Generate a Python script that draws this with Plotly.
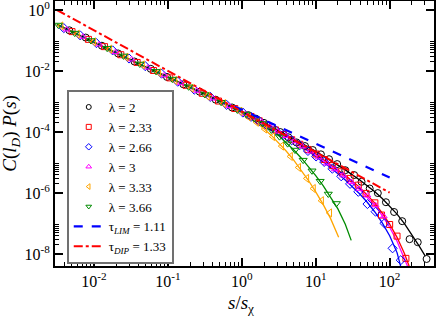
import plotly.graph_objects as go

# ---------------- data ----------------
series_names = ["λ = 2", "λ = 2.33", "λ = 2.66", "λ = 3", "λ = 3.33", "λ = 3.66"]

s_l2 = [0.00464, 0.00773, 0.0128, 0.0212, 0.0353, 0.0586, 0.0973, 0.162, 0.269, 0.444, 0.738, 1.225,
        1.549, 1.995, 2.570, 3.311, 4.266, 5.495, 7.16, 9.12, 11.75, 15.14, 19.50, 25.12, 33.11, 41.69,
        53.70, 69.18, 89.13, 114.8, 147.9, 186.2, 239.9, 316.2]
p_l2 = [0.216, 0.125, 0.0674, 0.0377, 0.0205, 0.0118, 0.00640, 0.00367, 0.00210, 0.00115, 0.000639, 0.000357,
        2.754e-4, 1.995e-4, 1.445e-4, 1.0e-4, 6.76e-5, 4.57e-5, 3.47e-5, 2.57e-5, 1.86e-5, 1.29e-5, 8.91e-6,
        5.62e-6, 3.89e-6, 2.34e-6, 1.41e-6, 1.0e-6, 5.01e-7, 2.40e-7, 1.20e-7, 3.09e-8, 2.45e-8, 6.92e-9]

s_l233 = [0.00505, 0.00842, 0.0139, 0.0231, 0.0384, 0.0638, 0.106, 0.176, 0.292, 0.484, 0.804, 1.334,
          1.718, 2.213, 2.851, 3.673, 4.732, 6.095, 7.852, 10.12, 13.03, 16.79, 22.13, 29.17, 37.67, 47.86,
          63.1, 77.62, 100, 125.9, 166.0]
p_l233 = [0.196, 0.109, 0.0630, 0.0342, 0.0191, 0.0104, 0.00596, 0.00340, 0.00186, 0.00104, 0.000590, 0.000324,
          2.34e-4, 1.70e-4, 1.175e-4, 8.32e-5, 5.62e-5, 3.98e-5, 2.69e-5, 1.905e-5, 1.26e-5, 7.94e-6, 5.01e-6,
          3.02e-6, 1.82e-6, 9.77e-7, 4.79e-7, 1.905e-7, 9.33e-8, 3.89e-8, 7.24e-9]

s_l266 = [0.00391, 0.00652, 0.0108, 0.0179, 0.0298, 0.0495, 0.0821, 0.136, 0.227, 0.375, 0.623, 1.033,
          1.334, 1.718, 2.213, 2.851, 3.673, 4.732, 6.095, 7.852, 10.12, 13.03, 16.79, 22.13, 29.17, 37.67,
          50.12, 64.57, 85.11, 109.6, 141.3]
p_l266 = [0.255, 0.147, 0.0821, 0.0475, 0.0257, 0.0144, 0.0082, 0.00447, 0.00245, 0.00142, 0.000778, 0.000435,
          3.16e-4, 2.29e-4, 1.62e-4, 1.148e-4, 8.13e-5, 5.37e-5, 3.72e-5, 2.40e-5, 1.585e-5, 1.047e-5, 6.31e-6,
          3.55e-6, 2.0e-6, 1.10e-6, 4.37e-7, 2.45e-7, 1.02e-7, 1.55e-8, 6.31e-9]

s_l3 = [0.00426, 0.0071, 0.0117, 0.0195, 0.0324, 0.0538, 0.0893, 0.148, 0.247, 0.408, 0.678, 1.124,
        1.445, 1.862, 2.399, 3.090, 3.981, 5.129, 6.607, 8.511, 10.96, 14.13, 18.20, 23.44, 30.20, 38.90,
        50.12, 64.57, 83.18]
p_l3 = [0.230, 0.133, 0.0744, 0.0417, 0.0240, 0.0130, 0.00725, 0.00400, 0.00226, 0.00126, 0.000705, 0.000394,
        2.95e-4, 2.14e-4, 1.51e-4, 1.047e-4, 7.41e-5, 5.01e-5, 3.39e-5, 2.29e-5, 1.48e-5, 9.33e-6, 6.03e-6,
        3.80e-6, 2.29e-6, 1.38e-6, 8.32e-7, 3.98e-7, 1.74e-7]

s_l333 = [0.00359, 0.00599, 0.00991, 0.0164, 0.0273, 0.0454, 0.0754, 0.125, 0.208, 0.344, 0.572, 0.949,
          1.230, 1.585, 2.042, 2.630, 3.467, 4.571, 5.888, 7.586, 9.333, 12.02, 15.49]
p_l333 = [0.300, 0.162, 0.0906, 0.0520, 0.0284, 0.0159, 0.00883, 0.00494, 0.00275, 0.00150, 0.000859, 0.00048,
          3.16e-4, 2.09e-4, 1.26e-4, 7.08e-5, 3.47e-5, 1.585e-5, 6.92e-6, 3.02e-6, 1.41e-6, 5.62e-7, 2.24e-7]

s_l366 = [0.0033, 0.0055, 0.0091, 0.0151, 0.0251, 0.0417, 0.0692, 0.115, 0.191, 0.316, 0.525, 0.871,
          1.148, 1.479, 1.905, 2.512, 3.236, 4.169, 5.248, 6.761, 8.913, 11.48, 14.79, 19.05]
p_l366 = [0.321, 0.175, 0.100, 0.056, 0.0313, 0.0170, 0.00975, 0.00545, 0.00304, 0.0017, 0.000948, 0.00053,
          3.89e-4, 2.82e-4, 1.905e-4, 1.175e-4, 7.08e-5, 4.17e-5, 2.57e-5, 1.20e-5, 5.37e-6, 2.45e-6, 9.33e-7,
          4.57e-7]

# fitted curves
fit_s_l2 = [0.00316, 0.0316, 0.316, 1, 1.585, 2.512, 3.981, 6.31, 10, 15.85, 25.12, 39.81, 63.1, 79.43, 100,
            125.9, 158.5, 199.5, 251.2, 302]
fit_p_l2 = [0.339, 0.0229, 1.78e-3, 4.68e-4, 2.69e-4, 1.51e-4, 8.32e-5, 4.47e-5, 2.34e-5, 1.17e-5, 5.75e-6,
            2.63e-6, 1.10e-6, 6.61e-7, 3.80e-7, 2.04e-7, 1.0e-7, 4.47e-8, 1.82e-8, 8.71e-9]
fit_s_l233 = [0.00316, 0.0316, 0.316, 1, 1.585, 2.512, 3.981, 6.31, 10, 15.85, 25.12, 39.81, 63.1, 79.43, 100,
              125.9, 158.5, 190.5]
fit_p_l233 = [0.339, 0.0229, 1.74e-3, 4.57e-4, 2.57e-4, 1.41e-4, 7.59e-5, 3.89e-5, 1.905e-5, 8.71e-6, 3.80e-6,
              1.51e-6, 4.68e-7, 2.19e-7, 9.55e-8, 3.55e-8, 1.05e-8, 3.16e-9]
fit_s_l266 = [0.00316, 0.0316, 0.316, 1, 1.585, 2.512, 3.981, 6.31, 10, 15.85, 25.12, 39.81, 50.12, 63.1, 79.43,
              100, 125.9, 144.5]
fit_p_l266 = [0.331, 0.0224, 1.70e-3, 4.37e-4, 2.51e-4, 1.38e-4, 7.24e-5, 3.55e-5, 1.62e-5, 6.92e-6, 2.69e-6,
              9.12e-7, 4.90e-7, 2.40e-7, 1.05e-7, 3.98e-8, 1.12e-8, 3.16e-9]
fit_s_l3 = [0.00316, 0.0316, 0.316, 1, 1.585, 2.512, 3.981, 6.31, 10, 15.85, 25.12, 39.81, 63.1, 79.43, 100,
            125.9, 158.5, 182]
fit_p_l3 = [0.324, 0.0219, 1.66e-3, 4.37e-4, 2.45e-4, 1.35e-4, 7.24e-5, 3.63e-5, 1.74e-5, 7.76e-6, 3.31e-6,
            1.29e-6, 3.98e-7, 1.82e-7, 7.59e-8, 2.63e-8, 7.59e-9, 3.16e-9]
fit_s_l333 = [0.00316, 0.0316, 0.316, 1, 1.259, 1.585, 1.995, 2.512, 3.162, 3.981, 5.012, 6.31, 7.943, 10,
              12.59, 15.85, 20.42]
fit_p_l333 = [0.339, 0.0229, 1.74e-3, 4.57e-4, 3.16e-4, 2.09e-4, 1.29e-4, 7.76e-5, 4.47e-5, 2.40e-5, 1.23e-5,
              5.89e-6, 2.63e-6, 1.10e-6, 4.27e-7, 1.48e-7, 3.55e-8]
fit_s_l366 = [0.00316, 0.0316, 0.316, 1, 1.259, 1.585, 1.995, 2.512, 3.162, 3.981, 5.012, 6.31, 7.943, 10,
              12.59, 15.85, 19.95, 25.12, 30.2]
fit_p_l366 = [0.339, 0.0229, 1.74e-3, 4.68e-4, 3.47e-4, 2.51e-4, 1.74e-4, 1.175e-4, 7.59e-5, 4.57e-5, 2.63e-5,
              1.445e-5, 7.41e-6, 3.72e-6, 1.74e-6, 7.59e-7, 3.02e-7, 9.55e-8, 2.82e-8]

# reference power laws
tau_lim_s = [0.8, 100]
tau_lim_p = [6.89e-4, 3.24e-6]
tau_dip_s = [0.00316, 100]
tau_dip_p = [1.0, 1.035e-6]

x_tick_vals = [0.01, 0.1, 1, 10, 100]
x_tick_text = ["10<sup>-2</sup>", "10<sup>-1</sup>", "10<sup>0</sup>", "10<sup>1</sup>", "10<sup>2</sup>"]
y_tick_vals = [1e-8, 1e-6, 1e-4, 1e-2, 1]
y_tick_text = ["10<sup>-8</sup>", "10<sup>-6</sup>", "10<sup>-4</sup>", "10<sup>-2</sup>", "10<sup>0</sup>"]

# ---------------- figure ----------------
colors = ["#000000", "#ff0000", "#0000ff", "#ff00ff", "#ffa500", "#008b00"]
symbols = ["circle-open", "square-open", "diamond-open", "triangle-up-open", "triangle-left-open",
           "triangle-down-open"]
marker_sizes = [7, 6, 7, 6, 7, 7]
data_s = [s_l2, s_l233, s_l266, s_l3, s_l333, s_l366]
data_p = [p_l2, p_l233, p_l266, p_l3, p_l333, p_l366]
fit_s = [fit_s_l2, fit_s_l233, fit_s_l266, fit_s_l3, fit_s_l333, fit_s_l366]
fit_p = [fit_p_l2, fit_p_l233, fit_p_l266, fit_p_l3, fit_p_l333, fit_p_l366]

fig = go.Figure()
for i in range(6):
    fig.add_trace(go.Scatter(x=fit_s[i], y=fit_p[i], mode="lines",
                             line=dict(color=colors[i], width=1.3), showlegend=False, hoverinfo="skip"))
for i in range(6):
    fig.add_trace(go.Scatter(x=data_s[i], y=data_p[i], mode="markers", showlegend=False,
                             marker=dict(symbol=symbols[i], size=marker_sizes[i], color=colors[i],
                                         line=dict(width=1, color=colors[i]))))
# legend entries (small symbols, as in the original legend)
for i in range(6):
    fig.add_trace(go.Scatter(x=[None], y=[None], mode="markers", name=series_names[i],
                             marker=dict(symbol=symbols[i], size=5, color=colors[i],
                                         line=dict(width=1, color=colors[i]))))

fig.add_trace(go.Scatter(x=tau_lim_s, y=tau_lim_p, mode="lines",
                         name="τ<sub><i>LIM</i></sub> = 1.11",
                         line=dict(color="#0000ff", width=2.2, dash="dash")))
fig.add_trace(go.Scatter(x=tau_dip_s, y=tau_dip_p, mode="lines",
                         name="τ<sub><i>DIP</i></sub> = 1.33",
                         line=dict(color="#ff0000", width=2, dash="dashdot")))

x_minor = []
for d in [0.001, 0.01, 0.1, 1, 10, 100]:
    for m in range(2, 10):
        x_minor.append(m * d)
y_minor = []
for d in [1e-10, 1e-8, 1e-6, 1e-4, 1e-2]:
    for m in range(2, 10):
        y_minor.append(m * d)

font_family = "Liberation Serif, Times New Roman, serif"
axis_common = dict(type="log", showgrid=False, zeroline=False, showline=True, linecolor="black",
                   linewidth=2, mirror="ticks", ticks="inside", ticklen=8, tickwidth=1.5,
                   tickcolor="black", automargin=False, ticklabeloverflow="allow",
                   tickfont=dict(family=font_family, size=16, color="black"))

fig.update_layout(
    width=436, height=317,
    margin=dict(l=55, r=2, t=1, b=51, autoexpand=False),
    paper_bgcolor="white", plot_bgcolor="white",
    font=dict(family=font_family, color="black"),
    xaxis=dict(range=[-2.527, 2.600], tickmode="array", tickvals=x_tick_vals, ticktext=x_tick_text,
               minor=dict(tickmode="array", tickvals=x_minor, ticks="inside", ticklen=4,
                          tickcolor="black", tickwidth=1),
               **axis_common),
    yaxis=dict(range=[-8.39, 0.295], tickmode="array", tickvals=y_tick_vals, ticktext=y_tick_text,
               minor=dict(tickmode="array", tickvals=y_minor, ticks="inside", ticklen=4,
                          tickcolor="black", tickwidth=1),
               **axis_common),
    legend=dict(x=0.031, y=0.664, xanchor="left", yanchor="top", bgcolor="white",
                bordercolor="#707070", borderwidth=2,
                font=dict(family=font_family, size=13, color="black"),
                itemwidth=30, tracegroupgap=0),
    showlegend=True,
    annotations=[
        dict(text="<i>s</i>/<i>s</i><sub>χ</sub>", xref="paper", yref="paper", x=0.49, y=-0.09,
             xanchor="center", yanchor="top", showarrow=False,
             font=dict(family=font_family, size=19, color="black")),
        dict(text="<i>C</i>(<i>l</i><sub><i>D</i></sub>) <i>P</i>(<i>s</i>)", xref="paper", yref="paper",
             x=-0.118, y=0.5, xanchor="center", yanchor="middle", textangle=-90, showarrow=False,
             font=dict(family=font_family, size=19, color="black")),
    ],
)

fig.write_html("out.html", config={"displayModeBar": False},
               post_script="document.body.style.margin='0px';document.body.style.padding='0px';")
